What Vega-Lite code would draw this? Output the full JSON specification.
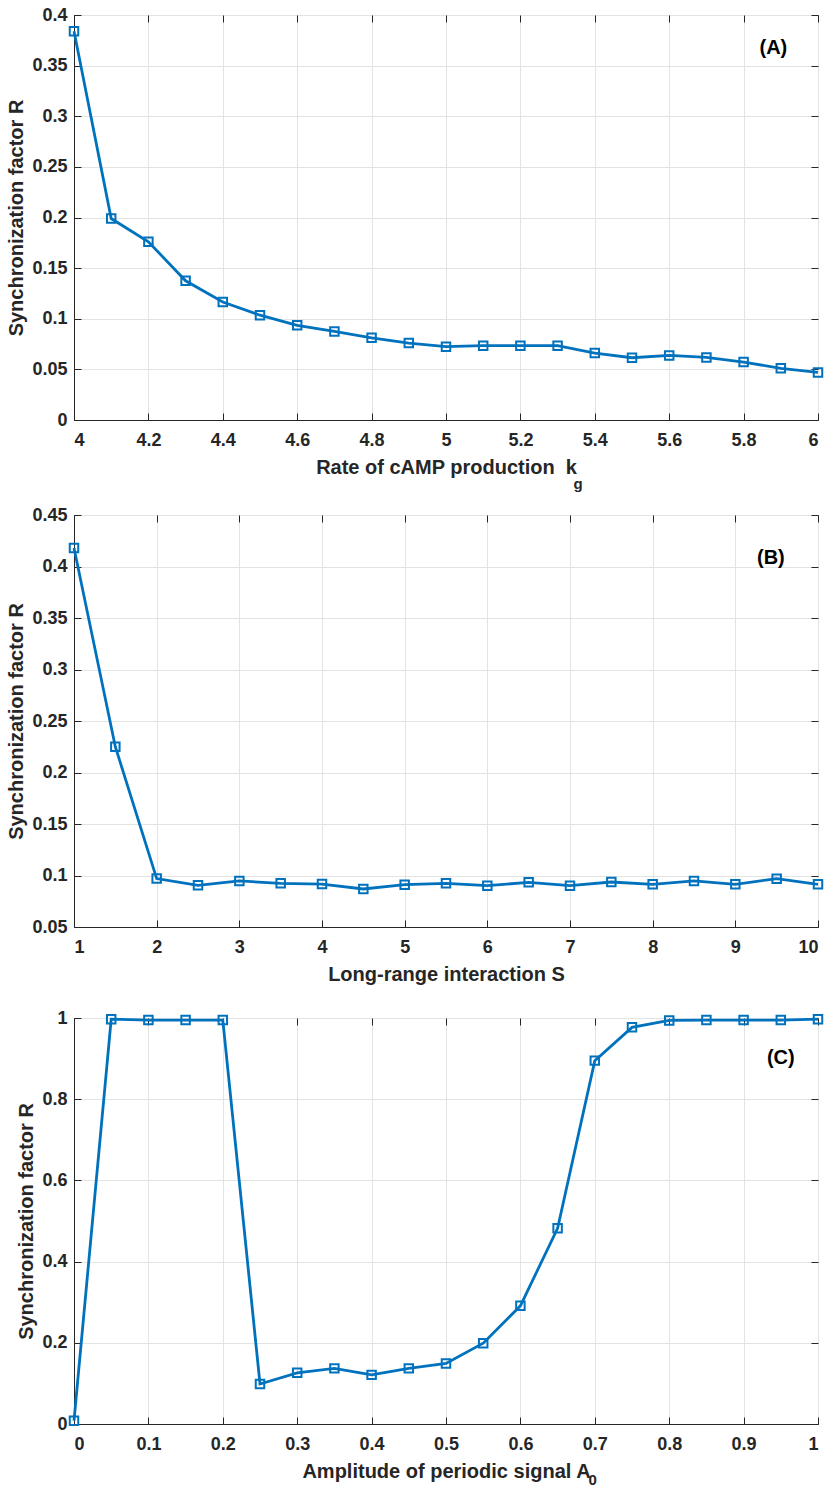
{
  "$schema": "https://vega.github.io/schema/vega-lite/v6.json",
  "padding": {"left": 6, "top": 5, "right": 2, "bottom": 2},
  "bounds": "flush",
  "spacing": 95,
  "background": "white",
  "datasets": {
    "A": [
      {"x": 4.0, "R": 0.384}, {"x": 4.1, "R": 0.199}, {"x": 4.2, "R": 0.176}, {"x": 4.3, "R": 0.1375},
      {"x": 4.4, "R": 0.1165}, {"x": 4.5, "R": 0.1035}, {"x": 4.6, "R": 0.0935}, {"x": 4.7, "R": 0.0875},
      {"x": 4.8, "R": 0.0812}, {"x": 4.9, "R": 0.076}, {"x": 5.0, "R": 0.0724}, {"x": 5.1, "R": 0.0734},
      {"x": 5.2, "R": 0.0734}, {"x": 5.3, "R": 0.0734}, {"x": 5.4, "R": 0.0661}, {"x": 5.5, "R": 0.0615},
      {"x": 5.6, "R": 0.0638}, {"x": 5.7, "R": 0.0618}, {"x": 5.8, "R": 0.0572}, {"x": 5.9, "R": 0.051},
      {"x": 6.0, "R": 0.047}
    ],
    "B": [
      {"x": 1, "R": 0.418}, {"x": 1.5, "R": 0.225}, {"x": 2, "R": 0.097}, {"x": 2.5, "R": 0.0905},
      {"x": 3, "R": 0.0947}, {"x": 3.5, "R": 0.0924}, {"x": 4, "R": 0.0917}, {"x": 4.5, "R": 0.0869},
      {"x": 5, "R": 0.0911}, {"x": 5.5, "R": 0.0924}, {"x": 6, "R": 0.0901}, {"x": 6.5, "R": 0.0934},
      {"x": 7, "R": 0.0901}, {"x": 7.5, "R": 0.0937}, {"x": 8, "R": 0.0914}, {"x": 8.5, "R": 0.0947},
      {"x": 9, "R": 0.0914}, {"x": 9.5, "R": 0.0969}, {"x": 10, "R": 0.0914}
    ],
    "C": [
      {"x": 0, "R": 0.008}, {"x": 0.05, "R": 0.997}, {"x": 0.1, "R": 0.995}, {"x": 0.15, "R": 0.995},
      {"x": 0.2, "R": 0.995}, {"x": 0.25, "R": 0.0985}, {"x": 0.3, "R": 0.126}, {"x": 0.35, "R": 0.137},
      {"x": 0.4, "R": 0.121}, {"x": 0.45, "R": 0.137}, {"x": 0.5, "R": 0.149}, {"x": 0.55, "R": 0.199},
      {"x": 0.6, "R": 0.291}, {"x": 0.65, "R": 0.482}, {"x": 0.7, "R": 0.895}, {"x": 0.75, "R": 0.977},
      {"x": 0.8, "R": 0.994}, {"x": 0.85, "R": 0.995}, {"x": 0.9, "R": 0.995}, {"x": 0.95, "R": 0.995},
      {"x": 1.0, "R": 0.997}
    ]
  },
  "vconcat": [
    {
      "width": 744, "height": 405,
      "layer": [
        {
          "data": {"name": "A"},
          "mark": {"type": "line", "color": "#0072BD", "strokeWidth": 2.8},
          "encoding": {
            "x": {"field": "x", "type": "quantitative", "scale": {"domain": [4, 6], "nice": false, "zero": false},
                  "axis": {"title": "Rate of cAMP production\u00a0 k", "values": [4, 4.2, 4.4, 4.6, 4.8, 5, 5.2, 5.4, 5.6, 5.8, 6], "format": "~r"}},
            "y": {"field": "R", "type": "quantitative", "scale": {"domain": [0, 0.4], "nice": false, "zero": false},
                  "axis": {"title": "Synchronization factor R", "values": [0, 0.05, 0.1, 0.15, 0.2, 0.25, 0.3, 0.35, 0.4], "format": "~r"}}
          }
        },
        {
          "data": {"name": "A"},
          "mark": {"type": "point", "shape": "square", "filled": false, "color": "#0072BD", "size": 72, "strokeWidth": 2, "opacity": 1},
          "encoding": {
            "x": {"field": "x", "type": "quantitative", "axis": null},
            "y": {"field": "R", "type": "quantitative", "axis": null}
          }
        },
        {
          "data": {"values": [{"x": 5.88, "y": 0.367, "t": "(A)"}]},
          "mark": {"type": "text", "fontWeight": "bold", "fontSize": 20, "font": "Liberation Sans", "color": "black"},
          "encoding": {
            "x": {"field": "x", "type": "quantitative",
                  "axis": {"orient": "top", "labels": false, "grid": false, "domain": false, "title": null, "values": [4, 4.2, 4.4, 4.6, 4.8, 5, 5.2, 5.4, 5.6, 5.8, 6]}},
            "y": {"field": "y", "type": "quantitative",
                  "axis": {"orient": "right", "labels": false, "grid": false, "domain": false, "title": null, "values": [0, 0.05, 0.1, 0.15, 0.2, 0.25, 0.3, 0.35, 0.4]}},
            "text": {"field": "t"}
          }
        },
        {
          "data": {"values": [{"x": 5.355, "y": -0.0632, "t": "g"}]},
          "mark": {"type": "text", "fontWeight": "bold", "fontSize": 15, "font": "Liberation Sans", "color": "#262626"},
          "encoding": {
            "x": {"field": "x", "type": "quantitative", "axis": null},
            "y": {"field": "y", "type": "quantitative", "axis": null},
            "text": {"field": "t"}
          }
        }
      ],
      "resolve": {"axis": {"x": "independent", "y": "independent"}}
    },
    {
      "bounds": "flush",
      "spacing": 91,
      "vconcat": [
        {
          "width": 744, "height": 412,
          "layer": [
            {
              "data": {"name": "B"},
              "mark": {"type": "line", "color": "#0072BD", "strokeWidth": 2.8},
              "encoding": {
                "x": {"field": "x", "type": "quantitative", "scale": {"domain": [1, 10], "nice": false, "zero": false},
                      "axis": {"title": "Long-range interaction S", "values": [1, 2, 3, 4, 5, 6, 7, 8, 9, 10], "format": "~r"}},
                "y": {"field": "R", "type": "quantitative", "scale": {"domain": [0.05, 0.45], "nice": false, "zero": false},
                      "axis": {"title": "Synchronization factor R", "values": [0.05, 0.1, 0.15, 0.2, 0.25, 0.3, 0.35, 0.4, 0.45], "format": "~r"}}
              }
            },
            {
              "data": {"name": "B"},
              "mark": {"type": "point", "shape": "square", "filled": false, "color": "#0072BD", "size": 72, "strokeWidth": 2, "opacity": 1},
              "encoding": {
                "x": {"field": "x", "type": "quantitative", "axis": null},
                "y": {"field": "R", "type": "quantitative", "axis": null}
              }
            },
            {
              "data": {"values": [{"x": 9.43, "y": 0.408, "t": "(B)"}]},
              "mark": {"type": "text", "fontWeight": "bold", "fontSize": 20, "font": "Liberation Sans", "color": "black"},
              "encoding": {
                "x": {"field": "x", "type": "quantitative",
                      "axis": {"orient": "top", "labels": false, "grid": false, "domain": false, "title": null, "values": [1, 2, 3, 4, 5, 6, 7, 8, 9, 10]}},
                "y": {"field": "y", "type": "quantitative",
                      "axis": {"orient": "right", "labels": false, "grid": false, "domain": false, "title": null, "values": [0.05, 0.1, 0.15, 0.2, 0.25, 0.3, 0.35, 0.4, 0.45]}},
                "text": {"field": "t"}
              }
            }
          ],
          "resolve": {"axis": {"x": "independent", "y": "independent"}}
        },
        {
          "width": 744, "height": 406,
          "layer": [
            {
              "data": {"name": "C"},
              "mark": {"type": "line", "color": "#0072BD", "strokeWidth": 2.8},
              "encoding": {
                "x": {"field": "x", "type": "quantitative", "scale": {"domain": [0, 1], "nice": false, "zero": false},
                      "axis": {"title": "Amplitude of periodic signal A", "values": [0, 0.1, 0.2, 0.3, 0.4, 0.5, 0.6, 0.7, 0.8, 0.9, 1], "format": "~r"}},
                "y": {"field": "R", "type": "quantitative", "scale": {"domain": [0, 1], "nice": false, "zero": false},
                      "axis": {"title": "Synchronization factor R", "values": [0, 0.2, 0.4, 0.6, 0.8, 1], "format": "~r"}}
              }
            },
            {
              "data": {"name": "C"},
              "mark": {"type": "point", "shape": "square", "filled": false, "color": "#0072BD", "size": 72, "strokeWidth": 2, "opacity": 1},
              "encoding": {
                "x": {"field": "x", "type": "quantitative", "axis": null},
                "y": {"field": "R", "type": "quantitative", "axis": null}
              }
            },
            {
              "data": {"values": [{"x": 0.95, "y": 0.901, "t": "(C)"}]},
              "mark": {"type": "text", "fontWeight": "bold", "fontSize": 20, "font": "Liberation Sans", "color": "black"},
              "encoding": {
                "x": {"field": "x", "type": "quantitative",
                      "axis": {"orient": "top", "labels": false, "grid": false, "domain": false, "title": null, "values": [0, 0.1, 0.2, 0.3, 0.4, 0.5, 0.6, 0.7, 0.8, 0.9, 1]}},
                "y": {"field": "y", "type": "quantitative",
                      "axis": {"orient": "right", "labels": false, "grid": false, "domain": false, "title": null, "values": [0, 0.2, 0.4, 0.6, 0.8, 1]}},
                "text": {"field": "t"}
              }
            },
            {
              "data": {"values": [{"x": 0.697, "y": -0.138, "t": "0"}]},
              "mark": {"type": "text", "fontWeight": "bold", "fontSize": 15, "font": "Liberation Sans", "color": "#262626"},
              "encoding": {
                "x": {"field": "x", "type": "quantitative", "axis": null},
                "y": {"field": "y", "type": "quantitative", "axis": null},
                "text": {"field": "t"}
              }
            }
          ],
          "resolve": {"axis": {"x": "independent", "y": "independent"}}
        }
      ]
    }
  ],
  "config": {
    "view": {"stroke": "#262626", "strokeWidth": 1},
    "axis": {
      "labelFont": "Liberation Sans", "labelFontWeight": "bold", "labelFontSize": 18, "labelColor": "#262626",
      "titleFont": "Liberation Sans", "titleFontWeight": "bold", "titleFontSize": 20, "titleColor": "#262626",
      "domainColor": "#262626", "tickColor": "#262626", "tickSize": -7, "tickWidth": 1,
      "gridColor": "#e3e3e3", "gridWidth": 1
    },
    "axisX": {"labelPadding": 18.5, "titlePadding": 7.5},
    "axisY": {"labelPadding": 14, "titlePadding": 5}
  }
}
